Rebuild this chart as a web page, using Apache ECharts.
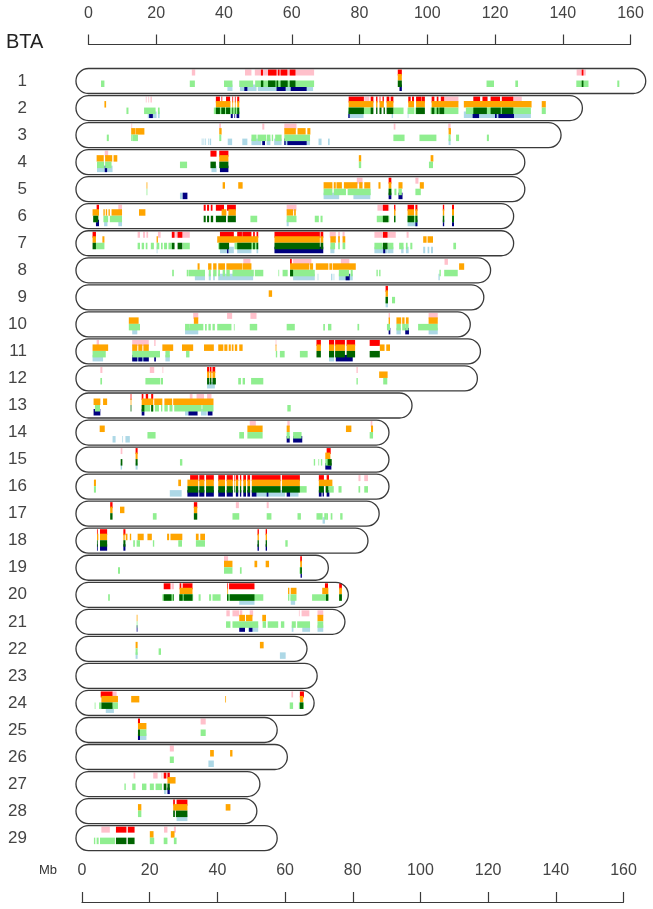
<!DOCTYPE html>
<html>
<head>
<meta charset="utf-8">
<style>
  html, body { margin: 0; padding: 0; background: #fff; }
  #chart { width: 653px; height: 909px; }
</style>
<script src="https://cdn.jsdelivr.net/npm/echarts@6/dist/echarts.min.js"></script>
</head>
<body>
<div id="chart"></div>
<script>
const chromLabels = ['1','2','3','4','5','6','7','8','9','10','11','12','13','14','15','16','17','18','19','20','21','22','23','24','25','26','27','28','29'];
const chromEnds = [164.5,145.8,139.5,128.8,128.8,125.5,125.5,118.7,116.7,112.7,115.7,114.8,95.5,88.7,88.7,88.7,85.8,82.5,70.8,76.7,75.7,64.5,67.5,66.6,55.7,58.7,50.6,49.7,55.7];
const chromStart = -3.7;
const axisTicks = [0,20,40,60,80,100,120,140,160];

// start,end pairs in Mb, keyed by chromosome
const pinkBlocks = {
  1: [30.5,31.5, 46.2,48.1, 49.1,66.6, 144.1,146.8],
  2: [16.9,17.2, 17.6,17.9, 18.3,18.7, 81.4,82.9, 105,109.2, 125.4,127.9],
  3: [12.6,12.8, 38.6,39.1, 51.3,51.9, 57.8,61.4, 90.1,90.6, 106.2,106.9],
  4: [4.8,5.8],
  5: [79.2,80.9, 96.5,97.4],
  6: [8.8,9.9, 58.5,61.4, 85.3,88.8],
  7: [14.5,15.2, 16.1,16.7, 17.1,17.6, 20.5,21.3, 24.6,25.4, 25.6,29.9, 71.2,73, 73.7,74.2, 75,75.6, 84.4,86.8, 88.4,90.7, 93.9,94.5],
  8: [45.7,47.8, 60.4,65.8, 74.5,77, 105.1,106.1],
  10: [30.9,32.4, 40.9,42.4, 47.8,49.6, 88.6,89, 100.4,103.1],
  11: [2.4,3.1, 12.9,17.8, 19.4,19.8, 55.2,55.5],
  12: [3.5,4.1, 18.1,19.4, 21.8,22, 79.1,79.5],
  13: [29.9,30.7, 31.9,34.1, 35,36.3],
  14: [47.6,49.4, 58.7,59.4, 83.3,83.8],
  15: [9.5,10],
  16: [79.7,80.3, 81.4,82.5],
  17: [43.5,44.4, 52.6,53.2],
  19: [40,41.2],
  20: [24.5,25.2, 74,74.8],
  21: [40.7,41.7, 42.5,44.5, 44.7,45.4, 47.6,48.6, 62.1,62.4, 62.9,65.2, 67.6,69.3],
  24: [7.1,8.3, 59.9,60.4],
  25: [33.1,34.6],
  26: [24,25.2],
  27: [13.3,13.8, 19.1,20.4, 21.5,21.8],
  29: [3.8,6.3, 22.3,23.3, 25.2,25.8]
};
const redBlocks = {
  1: [50.9,51.5, 53,55.5, 55.9,56.4, 56.7,58.7, 59.4,61.1, 91.3,92.5, 145.6,146.1],
  2: [37.6,38.8, 39.2,39.5, 40.6,41.8, 42.4,42.7, 43.2,43.5, 43.9,44.5, 76.8,81.3, 83.3,84.1, 84.9,85.3, 85.9,86.2, 86.8,87.2, 88,88.8, 89.2,90, 94.4,95.1, 95.5,96.1, 96.7,98.2, 98.3,99.3, 101.3,102.1, 102.8,103.3, 104,105, 113.6,115.6, 116.3,117.8, 118.7,121.5, 122,125.4],
  4: [36,37.8, 38.6,41.3],
  5: [88.6,89.4],
  6: [2.4,3.1, 34,34.6, 35,35.6, 36.1,36.6, 37.6,40, 40.9,43.5, 86.9,88.5, 90.2,90.6, 94.2,96.1, 96.5,97.1, 104.6,105, 107.3,107.9],
  7: [1.2,2.2, 24.6,25.4, 26.3,27.7, 38.8,42.9, 43.9,45.3, 45.4,48.1, 48.6,49.1, 49.6,50.1, 54.9,68.3, 68.5,69.3, 86.9,88.3],
  8: [59.5,60],
  9: [87.7,88.4],
  11: [67.3,68.6, 71,72.5, 72.8,75.7, 76.2,78.7, 83,86],
  12: [35,35.6, 35.8,36.3, 36.6,37.4],
  13: [12.4,12.7, 15.7,16.2, 16.9,17.6, 18.5,19.1],
  15: [13.9,14.5, 70.3,71.5],
  16: [30,32.4, 32.7,34.2, 34.7,37, 38.3,40.3, 40.8,42.6, 43,43.3, 43.5,44.2, 44.7,45.1, 45.7,46.5, 46.9,47.7, 48.2,56.7, 57.1,62.4, 68,69.5, 70.3,71],
  17: [6.4,7.1, 31.1,32.1],
  18: [2.5,2.8, 3.4,5.5, 10.3,10.9, 49.9,50.3, 52.3,52.7],
  19: [62.5,63],
  20: [22.2,24.2, 26.9,27.4, 27.8,30.7, 40.9,41.2, 41.5,49, 69.8,70.7, 74,74.8],
  24: [3.6,7.1, 62.4,63.6],
  25: [14.6,15.2],
  27: [22.2,23, 23.3,24],
  28: [25,25.5, 26,29.2],
  29: [8.1,11.2, 11.6,13.6]
};
const orangeBlocks = {
  1: [91.3,92.5],
  2: [4.7,5.2, 37.6,41.9, 42.4,42.7, 43.2,43.5, 43.9,44.5, 76.8,84.1, 84.9,85.3, 85.9,87.2, 88,90, 94.4,96.1, 96.7,99.3, 101.3,109.2, 110.8,130.8, 133.8,135],
  3: [12.6,13.9, 14,16.5, 38.6,39.3, 57.8,61.2, 61.7,64.1, 64.6,65.5, 106.3,107],
  4: [2.4,4.5, 4.9,7, 7.4,8.5, 38.6,41.3, 79.8,80.5, 101,101.8],
  5: [17.1,17.4, 39.6,40.3, 44.2,45.5, 69.4,72, 72.4,73, 73.2,74.8, 75.4,79.4, 79.9,80.9, 81.4,83.2, 85.6,86.2, 88.6,89.4, 91.5,92.7, 97.8,99],
  6: [1.2,3.1, 4.4,4.8, 5.1,5.5, 5.9,6.3, 6.8,9.9, 14.9,16.8, 39.3,40.7, 41.3,43.5, 58.5,60.4, 60.7,61.2, 90.2,90.6, 94.2,96.1, 96.5,97.1, 104.6,105, 107.3,107.9],
  7: [1.2,2.2, 4.1,4.7, 20.1,20.5, 38,50.1, 54.9,68.3, 68.5,69.3, 71.4,73, 73.7,74.2, 75,75.8, 98.8,99.8, 100.1,101.7],
  8: [32.2,32.8, 35.3,36.3, 36.8,37.8, 38.3,40.3, 40.7,45.4, 45.5,48.1, 59.5,65.2, 65.4,66.3, 67.1,70.8, 71.1,71.9, 72.1,78.9, 109.4,110.9],
  9: [53.2,54.2, 87.7,88.4],
  10: [11.9,14.8, 31.1,32.4, 88.6,89, 90.9,92.3, 92.6,93.3, 93.7,94.5, 100.4,103.1],
  11: [1.2,5.8, 12.9,14.4, 14.7,15.9, 16.2,17.8, 21.8,25, 27.6,30.9, 34.1,37, 38.3,39.8, 40.1,41, 41.4,42, 42.3,42.8, 43.2,43.9, 44.5,45.5, 55.2,55.5, 67.3,68.6, 71,72.5, 72.8,75.7, 76.2,78.7, 86,87.4, 87.9,89],
  12: [35,35.6, 35.8,36.3, 36.6,37.4, 85.8,88.3],
  13: [1.5,3.5, 4.3,5.5, 12.4,12.7, 15.7,19.1, 19.4,21.8, 22.4,24.7, 25,36.9],
  14: [3.3,4.8, 46.9,51.4, 58.5,59.4, 76,77.6, 83.4,84],
  15: [13.9,14.5, 69.9,71.4],
  16: [1.6,2.2, 26.5,27.3, 29.2,32.4, 32.7,34.2, 34.7,37, 38.3,40.3, 40.8,42.6, 43,43.3, 43.5,44.2, 44.7,45.1, 45.7,46.5, 46.9,47.7, 48.2,56.7, 57.1,62.4, 68,72],
  17: [9.3,10.6, 6.4,7.1, 31.1,32.1],
  18: [2.5,2.9, 3.4,5.5, 10.3,10.7, 11,11.5, 12.2,12.6, 14.5,16.3, 17.4,18.7, 23.2,23.8, 24.2,27.7, 31.7,32.5, 33,34.4, 49.9,50.3, 52.3,52.7],
  19: [40,42.5, 49,49.8, 52.3,53.3, 62.5,63],
  20: [26.9,30.7, 40.9,41.2, 58.9,59.3, 59.7,61.4, 69,70.8, 74,74.8],
  21: [14.2,14.4, 44.5,46.2, 46.5,48.4, 51.3,52.4, 67.6,69.3],
  22: [13.9,14.5, 50.6,51.7],
  24: [3.8,8.7, 12.6,15, 40.3,40.6, 62.4,63.4],
  25: [14.6,17.1],
  26: [35.9,37, 41.8,42.5],
  27: [23.3,25.7],
  28: [14.6,15.6, 25,29.2, 40.5,41.9],
  29: [18.1,19.2, 24.3,25.4]
};
const lightGreenBlocks = {
  1: [3.7,4.7, 29.9,31.4, 40,42.5, 44.5,48.6, 49.2,66.6, 117.5,119.7, 126,126.8, 144,147.6, 156.1,156.7],
  2: [11.2,11.8, 16.4,19.8, 20.5,21, 37,44.5, 76.7,83.8, 90,93, 94.2,96.2, 96.5,99.1, 101,109.2, 111.4,130.6, 133.8,135],
  3: [5.4,6, 12.6,13, 13,14.6, 38.6,39.2, 48.1,49.6, 49.9,52.4, 52.6,53.7, 54.1,54.5, 55.1,57, 57.8,65.4, 90,93.3, 97.7,102.7, 106.3,106.9, 108.5,109.4, 117.6,118.2],
  4: [2.5,4.6, 4.9,6.8, 27,29.1, 79.8,80.5, 100.5,101.7],
  5: [17.1,17.4, 69.4,72, 72.4,76, 76.5,83.3, 88.6,89.4, 90.3,90.9, 91.5,92.5, 96.5,98.1],
  6: [1.4,2.6, 4.4,5.8, 6.3,9.9, 47.8,49.8, 58.5,61.4, 66.8,68, 68.5,69.1, 85.1,88.8, 90.2,90.6, 94.2,97.1, 104.6,105, 107.3,107.9],
  7: [2.2,4.7, 14.5,15.2, 15.7,16.4, 16.9,17.4, 18.4,19.3, 20.1,20.9, 21.4,21.9, 22.3,23.2, 23.6,24.6, 27.8,29.9, 38.3,38.8, 43.1,44.3, 45.2,50.1, 71.4,72.8, 73.7,74.2, 75,75.8, 84.4,86.8, 88.4,90, 91.7,93, 93.7,94.2, 95,95.6, 107.7,108.5],
  8: [24.7,25.2, 29,29.4, 29.5,34.4, 35.5,36.1, 36.8,37.8, 38.3,38.8, 39.6,40.3, 40.7,41.7, 42.5,48.8, 49.1,51.6, 56,56.3, 57.3,58.8, 59.5,66.8, 73.9,76.9, 77.4,78, 85,85.4, 85.8,86.2, 103.6,104, 105,109],
  9: [87.7,88.4, 89.6,90.5],
  10: [11.9,15.2, 28.5,29.9, 29.9,33.9, 34.4,34.9, 35.4,36.1, 36.6,37.3, 38,42.2, 42.9,43.2, 47.6,49.8, 58.5,60.9, 69.3,69.8, 70.7,71.7, 79.4,79.9, 88.1,89, 90.9,92.2, 92.6,93.5, 93.5,94.5, 97.3,103.1],
  11: [1.2,5.1, 12.9,21.1, 22.7,24, 28.8,29.8, 55.3,55.7, 56.5,57.9, 62.4,64.7],
  12: [3.5,4, 16.8,21.2, 21.4,22, 44.2,45, 45.5,46.2, 48,51.6, 79.1,79.5, 87,88.2],
  13: [1.9,3.4, 15.7,18.2, 18.5,19.1, 19.6,20.8, 21.4,21.8, 22.4,23.4, 23.9,24.8, 25.3,33.4, 33.6,36.9, 58.7,59.7],
  14: [17.4,19.8, 44.5,45.9, 46.9,51.4, 58.5,59.4, 60.4,62.9, 83,84],
  15: [27,27.7, 66.5,66.9, 67.8,68.1, 68.6,69, 69.9,71.5],
  16: [1.6,2.2, 62.4,64.4, 70.8,72.4, 73.8,74.7, 79.7,80.2, 81.4,82.5],
  17: [19,20.1, 42.5,44.5, 52.6,54, 61.7,62.7, 67.3,69.1, 69.6,70.3, 70.2,70.7, 71.5,72, 74.3,75],
  18: [13.2,13.7, 14.2,15.2, 19,19.4, 26.5,27.6, 31.7,34.4, 58.1,58.8],
  19: [8.7,9.3, 40,42.5, 44.7,45.2, 62.3,63],
  20: [5.8,6.3, 21.8,25.2, 26.8,30.9, 32.5,33.1, 35.6,36.2, 36.6,39, 40.9,51.6, 58.9,59.3, 59.6,61.4, 66,70.8, 74,74.8],
  21: [14.2,14.4, 40.6,41.9, 42.5,50.1, 51.4,52.4, 52.9,56, 56.8,57.8, 60,61.2, 61.6,65.4, 67.6,69.3],
  22: [13.9,14.5, 20.7,21.4],
  24: [1.8,2.1, 3.1,3.8, 7.1,8.7, 59.4,60.4, 62.1,63.6],
  25: [15.2,17.1, 33.1,34.6],
  26: [24,25.2],
  27: [10.6,11, 12.9,13.9, 15.8,17.1, 18.1,19.3, 19.8,21.7],
  28: [14.6,15.6],
  29: [1.6,2, 2.4,3, 3.4,7.8, 18.1,19.4, 22.2,23.3, 25.2,26]
};
const darkGreenBlocks = {
  1: [50.9,51.6, 53,55.2, 55.5,56, 56.7,58.8, 59.4,61.1, 91.3,92.5, 145.6,146.1],
  2: [37.6,38.8, 39.2,40.3, 40.6,41.8, 42.4,42.7, 43.2,43.5, 43.9,44.5, 76.8,81.3, 83.3,84.1, 84.9,85.3, 85.9,86.5, 87.1,87.5, 88,90, 96.7,99.3, 101.3,102.1, 102.8,103.3, 103.6,105, 113.6,117.6, 118.7,121.7, 122,125.4],
  4: [36,37.6, 38.6,41.3],
  5: [88.6,89.4],
  6: [1.4,2.9, 34,34.6, 35,35.6, 36.1,36.8, 37.6,40.6, 41.1,43.5, 86.9,88.5, 90.2,90.6, 94.2,96.1, 96.5,97.1, 104.6,105, 107.3,107.9],
  7: [1.2,2.2, 24.6,25.4, 26.3,27.7, 38.6,41.5, 43.9,48.1, 48.6,49.1, 49.6,50.1, 54.9,68.3, 68.5,69.3, 86.9,88.3],
  8: [59.5,60.4],
  9: [87.7,88.4],
  11: [67.3,68.6, 71,72.5, 72.8,75.7, 76.2,78.7, 83,86],
  12: [35,35.6, 35.8,36.3, 36.6,37.6],
  13: [12.4,12.7, 15.7,16.5, 18.5,19.1],
  15: [9.5,10, 13.9,14.5, 70.6,71.8],
  16: [29.2,32.4, 32.7,34.2, 34.7,37, 38.3,40.3, 40.8,42.6, 43,43.3, 43.5,44.2, 44.7,45.1, 45.7,46.5, 46.9,47.7, 48.2,56.7, 57.1,62.4, 68,69.5, 70,70.8],
  17: [6.4,7.1, 31.1,32.1],
  18: [2.5,2.8, 3.4,5.5, 10.3,10.9, 49.9,50.3, 52.3,52.7],
  19: [62.5,63],
  20: [22.2,24.5, 24.9,25.2, 26.8,27.8, 28.1,30.7, 40.9,41.3, 41.7,49, 70.1,70.8, 74,74.8],
  24: [3.8,7.1, 62.4,63.4],
  25: [14.6,15.2],
  27: [22.2,23, 23.3,24],
  28: [25,25.5, 25.8,29.2],
  29: [8.1,11.2, 11.6,13.6]
};
const lightBlueBlocks = {
  1: [41,42.5, 44.7,49.6, 50,55.5, 55.5,66.3],
  2: [17.5,20.1, 20.5,21, 76.7,81.2, 89.5,89.9, 94.2,94.5, 110.8,130.6],
  3: [33.4,33.7, 33.9,34.2, 34.4,34.7, 35.3,35.6, 35.8,36.2, 41.1,42.4, 45.4,46.9, 48.1,51, 51.3,52.1, 52.6,53.7, 54.8,57, 57.8,65.4, 67.9,68.8, 70.7,71.2, 106.3,106.9],
  4: [2.5,7.1, 36.3,37.8],
  5: [27,27.8, 69.4,74, 78.2,83.2],
  6: [4.6,5.6, 8.8,9.9, 58.5,59.1, 94.2,97.1],
  7: [20.1,20.4, 38.8,42.9, 43.9,48.1, 49.6,50.1, 71.4,72.6, 84.4,88.3, 88.4,90, 92.3,93, 93.7,94.5, 98.8,99.4, 100.1,100.6, 101.1,101.7],
  8: [31.4,34.4, 35.5,36.1, 36.8,37.3, 38.3,48.6, 60.4,66.8, 67.6,67.9, 71.6,72, 72.3,72.6, 73.9,78, 103.3,103.7],
  9: [87.7,88.4],
  10: [12.9,14.4, 28.5,32.4, 90.9,92.2, 100.4,103.1],
  11: [1.2,4.3, 12.9,17.8, 22.7,24, 71,72.5],
  12: [35,37.3],
  13: [28.5,29.5, 33.2,34.9],
  14: [7.1,8, 9.9,10.2, 10.9,12.2],
  15: [13.9,14.5, 9.5,9.9],
  16: [24,27.5, 49.6,58, 59.5,62],
  17: [69.1,69.8],
  20: [44.5,49, 59.7,61],
  21: [47.1,50.1, 60,60.5, 63.1,65.4, 67.6,69.3],
  22: [13.9,14.5, 56.5,58.2],
  24: [5.1,7.5],
  25: [15.2,17.1],
  26: [35.4,37],
  27: [22.3,23],
  28: [26,29.2]
};
const navyBlocks = {
  1: [46,46.9, 55.5,58.2, 59.7,64.4, 91.8,92.5],
  2: [17.9,19, 42,42.6, 43,43.3, 43.7,44.5, 76.7,77.1, 113.4,115.3, 120,120.5, 121,125.6],
  3: [51.3,52.1, 57.8,58.2, 58.7,64.4],
  4: [4.8,5.5, 38.8,41.3],
  5: [27.8,29.2, 88.6,89.4, 91.5,92.7],
  6: [2.2,3.1, 96.5,97.1, 104.6,105, 107.3,107.9],
  7: [40.9,41.3, 54.9,69.3, 87,87.6],
  8: [75.9,77.1],
  10: [88.6,89.1, 93.5,94.6],
  11: [12.9,14.4, 14.7,15.9, 16.2,17.8, 19.4,19.9, 73,78],
  13: [1.5,3.5, 15.7,16.5, 29.5,32.2, 35.2,36.6],
  14: [58.5,59.4, 60.4,63.1],
  15: [69.9,71.7],
  16: [29.2,32.4, 32.7,34.2, 34.7,37, 38.3,40.3, 40.8,42.6, 43.5,44.2, 44.7,45.1, 45.7,46.5, 46.9,47.7, 48.2,49.6, 52.6,53.1, 58.5,59.5, 68,68.8, 69.1,69.5, 70.3,71.1],
  18: [2.5,2.8, 3.4,5.5, 10.3,10.9, 49.9,50.3, 52.3,52.7],
  19: [62.6,63],
  21: [14.2,14.5, 44.5,46.2, 47.4,48.4],
  25: [14.6,15.2],
  27: [23.3,24]
};

// pill height 25px in a 27px row, lane offsets measured from pill top
const rowPitch = 27.04;
const pillHeight = 25;
const tracks = [
  { data: pinkBlocks, color: '#FFC0CB', top: 1, bottom: 7 },
  { data: redBlocks, color: '#FF0000', top: 1, bottom: 7 },
  { data: orangeBlocks, color: '#FFA500', top: 5.5, bottom: 12 },
  { data: lightBlueBlocks, color: '#ADD8E6', top: 16, bottom: 22.5 },
  { data: navyBlocks, color: '#000080', top: 16, bottom: 22.5 },
  { data: lightGreenBlocks, color: '#90EE90', top: 12, bottom: 18.5 },
  { data: darkGreenBlocks, color: '#006400', top: 12, bottom: 18.5 }
];

function blockRows(blocks) {
  const rows = [];
  Object.keys(blocks).forEach(function (chrom) {
    const pairs = blocks[chrom];
    for (let i = 0; i < pairs.length; i += 2) {
      rows.push([chromLabels.indexOf(chrom), pairs[i], pairs[i + 1]]);
    }
  });
  return rows;
}

const chart = echarts.init(document.getElementById('chart'), null, { renderer: 'canvas' });

function markSeries(track) {
  return {
    type: 'custom',
    xAxisIndex: 0,
    yAxisIndex: 0,
    silent: true,
    animation: false,
    data: blockRows(track.data),
    encode: { x: [1, 2], y: 0 },
    renderItem: function (params, api) {
      const a = api.coord([api.value(1), api.value(0)]);
      const b = api.coord([api.value(2), api.value(0)]);
      const top = a[1] - pillHeight / 2;
      const w = b[0] - a[0];
      return {
        type: 'rect',
        shape: { x: a[0], y: top + track.top, width: Math.max(w, 1), height: track.bottom - track.top },
        // the thinnest stripes wash out in the original
        style: { fill: track.color, opacity: w < 1.3 ? 0.75 : 1 }
      };
    }
  };
}

const outlineSeries = {
  type: 'custom',
  xAxisIndex: 0,
  yAxisIndex: 0,
  silent: true,
  animation: false,
  z: 5,
  data: chromEnds.map(function (end, i) { return [i, chromStart, end]; }),
  encode: { x: [1, 2], y: 0 },
  renderItem: function (params, api) {
    const a = api.coord([api.value(1), api.value(0)]);
    const b = api.coord([api.value(2), api.value(0)]);
    return {
      type: 'rect',
      shape: { x: a[0], y: a[1] - pillHeight / 2, width: b[0] - a[0], height: pillHeight, r: pillHeight / 2 },
      style: { fill: 'none', stroke: '#3a3a3a', lineWidth: 1.3 }
    };
  }
};

function mbAxis(gridIndex, offset) {
  return {
    type: 'value',
    gridIndex: gridIndex,
    position: 'top',
    offset: offset,
    min: axisTicks[0],
    max: axisTicks[axisTicks.length - 1],
    interval: 20,
    splitLine: { show: false },
    axisLine: { show: true, onZero: false, lineStyle: { color: '#3a3a3a', width: 1.2 } },
    axisTick: { show: true, length: 10, lineStyle: { color: '#3a3a3a', width: 1.2 } },
    axisLabel: { margin: 23, fontFamily: 'Liberation Sans', fontSize: 16, color: '#444' }
  };
}

chart.setOption({
  backgroundColor: '#fff',
  animation: false,
  grid: [
    { left: 88.5, width: 542, top: 67.5, height: rowPitch * 29 },
    { left: 82, width: 541.5, top: 902, height: 1 }
  ],
  xAxis: [mbAxis(0, 23), mbAxis(1, 0)],
  yAxis: [
    {
      type: 'category',
      gridIndex: 0,
      inverse: true,
      data: chromLabels,
      axisLine: { show: false },
      axisTick: { show: false },
      splitLine: { show: false },
      axisLabel: { margin: 61.5, padding: [2, 0, 0, 0], fontFamily: 'Liberation Sans', fontSize: 17, color: '#444' }
    },
    { type: 'value', gridIndex: 1, show: false }
  ],
  graphic: [
    { type: 'text', left: 6, top: 32, style: { text: 'BTA', fontFamily: 'Liberation Sans', fontSize: 20, fill: '#222' } },
    { type: 'text', left: 39, top: 864, style: { text: 'Mb', fontFamily: 'Liberation Sans', fontSize: 13, fill: '#333' } }
  ],
  series: tracks.map(markSeries).concat([outlineSeries])
});
</script>
</body>
</html>
